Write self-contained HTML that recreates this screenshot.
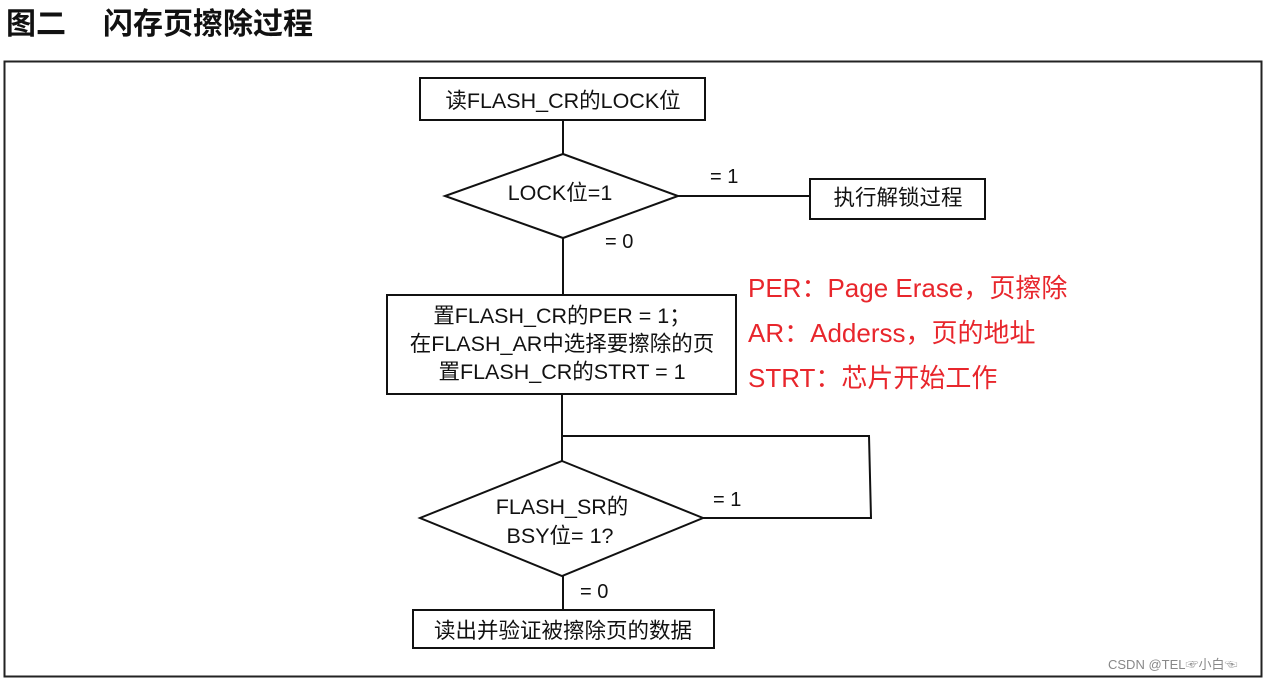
<!DOCTYPE html>
<html><head><meta charset="utf-8"><style>
html,body{margin:0;padding:0;background:#fff;width:1268px;height:682px;overflow:hidden}
svg text{font-family:"Liberation Sans","Noto Sans CJK SC",sans-serif}
</style></head><body>
<svg width="1268" height="682" xmlns="http://www.w3.org/2000/svg">
<text x="6" y="34" font-size="30" font-weight="bold" fill="#111">图二</text>
<text x="103" y="34" font-size="30" font-weight="bold" fill="#111">闪存页擦除过程</text>
<rect x="4.5" y="61.5" width="1257" height="615" fill="none" stroke="#222" stroke-width="2"/>
<g stroke="#111" stroke-width="2" fill="none">
<rect x="420" y="78" width="285" height="42"/>
<line x1="563" y1="120" x2="563" y2="154"/>
<polygon points="563,154 678,196 563,238 445,196"/>
<line x1="678" y1="196" x2="810" y2="196"/>
<rect x="810" y="179" width="175" height="40"/>
<line x1="563" y1="238" x2="563" y2="295"/>
<rect x="387" y="295" width="349" height="99"/>
<line x1="562" y1="394" x2="562" y2="461"/>
<polyline points="562,436 869,436 871,518 703,518"/>
<polygon points="562,461 703,518 562,576 420,518"/>
<line x1="563" y1="576" x2="563" y2="610"/>
<rect x="413" y="610" width="301" height="38"/>
</g>
<g font-size="21.5" fill="#111" text-anchor="middle">
<text x="563" y="108">读FLASH_CR的LOCK位</text>
<text x="560" y="200">LOCK位=1</text>
<text x="898" y="205">执行解锁过程</text>
<text x="562" y="323">置FLASH_CR的PER = 1；</text>
<text x="562" y="351">在FLASH_AR中选择要擦除的页</text>
<text x="562" y="379">置FLASH_CR的STRT = 1</text>
<text x="562" y="514">FLASH_SR的</text>
<text x="560" y="543">BSY位= 1?</text>
<text x="563" y="638">读出并验证被擦除页的数据</text>
</g>
<g font-size="20" fill="#111">
<text x="710" y="183">= 1</text>
<text x="605" y="248">= 0</text>
<text x="713" y="506">= 1</text>
<text x="580" y="598">= 0</text>
</g>
<g font-size="26" fill="#e8262c">
<text x="748" y="297">PER：Page Erase，页擦除</text>
<text x="748" y="342">AR：Adderss，页的地址</text>
<text x="748" y="387">STRT：芯片开始工作</text>
</g>
<text x="1108" y="669" font-size="13" fill="#888">CSDN @TEL☞小白☜</text>
</svg>
</body></html>
